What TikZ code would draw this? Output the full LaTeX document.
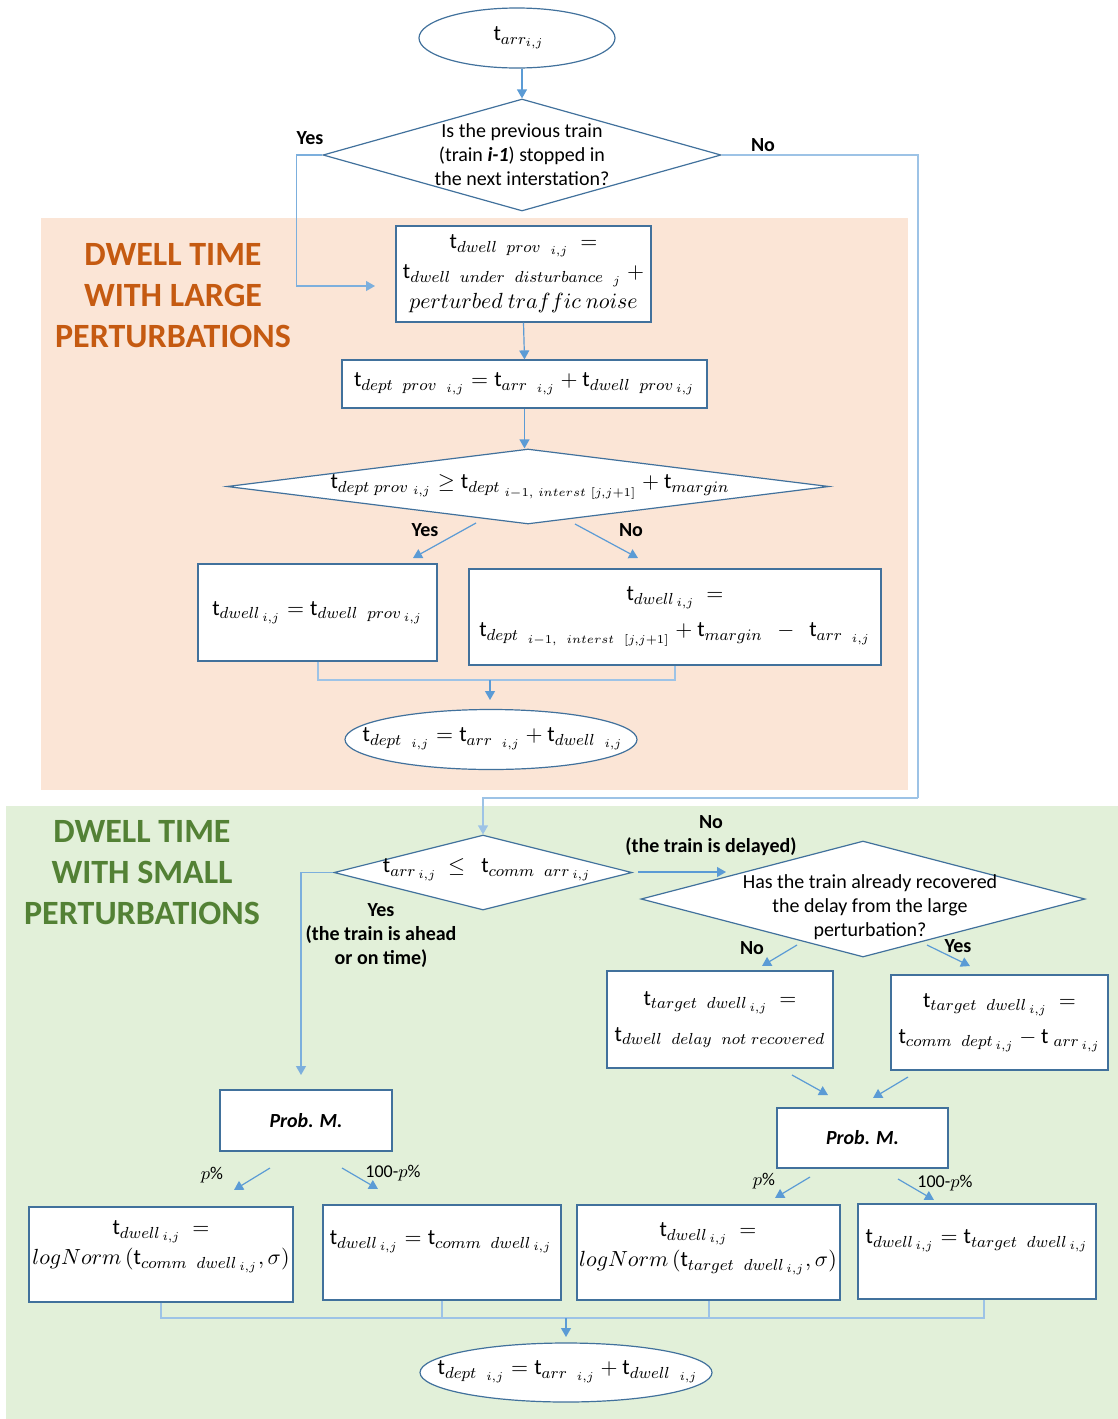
\documentclass[tikz,border=0pt]{standalone}
\usepackage{amsmath}
\usepackage[no-math]{fontspec}
\setmainfont{Carlito}
\usetikzlibrary{shapes.geometric,arrows.meta,calc}
\DeclareMathSizes{11}{11}{8}{6.5}

\definecolor{lineblue}{HTML}{5B9BD5}
\definecolor{routeblue}{HTML}{9DC3E6}
\definecolor{boxblue}{HTML}{41719C}
\definecolor{bgorange}{HTML}{FBE5D6}
\definecolor{bggreen}{HTML}{E2F0D9}
\definecolor{titleorange}{HTML}{C55A11}
\definecolor{titlegreen}{HTML}{538135}

% upright time symbol used in every formula
\newcommand{\tsym}{\text{t}}
\newcommand{\fmfont}{\fontsize{11}{15}\selectfont}

\begin{document}
\begin{tikzpicture}[x=0.5pt,y=-0.5pt,
  box/.style={draw=boxblue, line width=0.6pt, fill=white, rectangle, inner sep=2pt, align=center, font=\fmfont},
  term/.style={draw=boxblue, line width=0.6pt, fill=white, ellipse, inner sep=0pt},
  dia/.style={draw=boxblue, line width=0.6pt, fill=white, diamond, inner sep=0pt},
  fmla/.style={align=center, font=\fmfont, inner sep=0pt},
  qtext/.style={align=center, font=\fontsize{10}{12}\selectfont, inner sep=0pt},
  lbl/.style={align=center, font=\bfseries\fontsize{10}{12}\selectfont, inner sep=0pt},
  plbl/.style={align=center, font=\fontsize{9}{11}\selectfont, inner sep=0pt},
  title/.style={align=center, font=\bfseries\fontsize{17}{20.5}\selectfont, inner sep=0pt},
  arr/.style={-{Triangle[length=4.5pt,width=5pt]}, lineblue, line width=0.6pt},
  route/.style={routeblue, line width=1pt},
  probbox/.style={draw=boxblue, line width=0.6pt, fill=white, rectangle, font=\bfseries\itshape\fontsize{10}{12}\selectfont}
]
\useasboundingbox (0,0) rectangle (1118,1419);

% section backgrounds
\fill[bgorange] (41,218) rectangle (908,790);
\fill[bggreen] (6,806) rectangle (1118,1419);

\node[title, text=titleorange] (tlarge) at (173,296) {DWELL TIME\\WITH LARGE\\PERTURBATIONS};
\node[title, text=titlegreen] (tsmall) at (142,873) {DWELL TIME\\WITH SMALL\\PERTURBATIONS};

% ---------- large perturbations ----------
\node[term, minimum width=98pt, minimum height=30pt] (e1) at (517,38) {};
\node[fmla] (e1t) at (519,38) {$\tsym_{arr_{i,j}}$};

\node[dia, minimum width=199pt, minimum height=56pt] (d1) at (522,155) {};
\node[qtext] (d1t) at (522,155) {Is the previous train\\(train \textbf{\textit{i-1}}) stopped in\\the next interstation?};

\node[box, minimum width=127.5pt, minimum height=48pt] (b1) at (523.5,274)
  {$\tsym_{dwell\ \ prov\ \ _{i,j}}\ =$\\
   $\tsym_{dwell\ \ under\ \ disturbance\ \ _{j}}\ +$\\
   $perturbed\ traffic\ noise$};

\node[box, minimum width=182.5pt, minimum height=24pt] (b2) at (524.5,384)
  {$\tsym_{dept\ \ prov\ \ _{i,j}} = \tsym_{arr\ \ _{i,j}} + \tsym_{dwell\ \ prov\,_{i,j}}$};

\node[dia, minimum width=301pt, minimum height=37.5pt] (d2) at (528,486.5) {};
\node[fmla] (d2t) at (530,487)
  {$\tsym_{dept\ prov\ _{i,j}} \geq \tsym_{dept\ _{i-1,\ interst\ [j,j+1]}} + \tsym_{margin}$};

\node[box, minimum width=119.5pt, minimum height=48.5pt] (b3) at (317.5,612.5)
  {$\tsym_{dwell\,_{i,j}} = \tsym_{dwell\ \ prov\,_{i,j}}$};

\node[box, minimum width=206pt, minimum height=48pt] (b4) at (675,617)
  {$\tsym_{dwell\,_{i,j}}\ =$\\[3pt]
   $\tsym_{dept\ \ _{i-1,\ \ interst\ \ [j,j+1]}} + \tsym_{margin}\ \ -\ \ \tsym_{arr\ \ _{i,j}}$};

\node[term, minimum width=146pt, minimum height=30pt] (e2) at (491,739.5) {};
\node[fmla] (e2t) at (493,739)
  {$\tsym_{dept\ \ _{i,j}} = \tsym_{arr\ \ _{i,j}} + \tsym_{dwell\ \ _{i,j}}$};

% ---------- small perturbations ----------
\node[dia, minimum width=149pt, minimum height=37.5pt] (d3) at (483,872.5) {};
\node[fmla] (d3t) at (487,870)
  {$\tsym_{arr\,_{i,j}}\ \leq\ \ \tsym_{comm\ \ arr\,_{i,j}}$};

\node[dia, minimum width=222pt, minimum height=58pt] (d4) at (863,899) {};
\node[qtext] (d4t) at (870,907)
  {Has the train already recovered\\the delay from the large\\perturbation?};

\node[box, minimum width=113pt, minimum height=48.5pt] (b5) at (720,1019.5)
  {$\tsym_{target\ \ dwell\,_{i,j}}\ =$\\[3pt]
   $\tsym_{dwell\ \ delay\ \ not\ recovered}$};

\node[box, minimum width=108.5pt, minimum height=47.5pt] (b6) at (999.5,1022.5)
  {$\tsym_{target\ \ dwell\,_{i,j}}\ =$\\[3pt]
   $\tsym_{comm\ \ dept\,_{i,j}} - \tsym_{\ arr\,_{i,j}}$};

\node[probbox, minimum width=86pt, minimum height=30.5pt] (pm1) at (306,1120.5) {Prob. M.};
\node[probbox, minimum width=85.5pt, minimum height=30pt] (pm2) at (862.5,1138) {Prob. M.};

\node[box, minimum width=132pt, minimum height=47.5pt] (b7) at (161,1254.5) {};
\node[fmla] (b7t) at (161,1247)
  {$\tsym_{dwell\,_{i,j}}\ =$\\
   $logNorm\,(\tsym_{comm\ \ dwell\,_{i,j}},\sigma)$};

\node[box, minimum width=119pt, minimum height=47.5pt] (b8) at (442,1252.5) {};
\node[fmla] (b8t) at (441,1242)
  {$\tsym_{dwell\,_{i,j}} = \tsym_{comm\ \ dwell\,_{i,j}}$};

\node[box, minimum width=131.5pt, minimum height=47.5pt] (b9) at (708.5,1252.5) {};
\node[fmla] (b9t) at (708,1249)
  {$\tsym_{dwell\,_{i,j}}\ =$\\
   $logNorm\,(\tsym_{target\ \ dwell\,_{i,j}},\sigma)$};

\node[box, minimum width=119pt, minimum height=47.5pt] (b10) at (977,1251.5) {};
\node[fmla] (b10t) at (977,1241)
  {$\tsym_{dwell\,_{i,j}} = \tsym_{target\ \ dwell\,_{i,j}}$};

\node[term, minimum width=146pt, minimum height=29.5pt] (e3) at (566,1372.5) {};
\node[fmla] (e3t) at (568,1372)
  {$\tsym_{dept\ \ _{i,j}} = \tsym_{arr\ \ _{i,j}} + \tsym_{dwell\ \ _{i,j}}$};

% ---------- free connector ends ----------
\coordinate (yesEnd) at (375,286);
\coordinate (noCorner) at (918,798);
\coordinate (m1) at (490,680);
\coordinate (m1End) at (490,700);
\coordinate (smallYesEnd) at (301,1075);
\coordinate (delStart) at (638,872);
\coordinate (delEnd) at (726,872);
\coordinate (m2) at (566,1318);
\coordinate (m2End) at (566,1337);
\coordinate (a1s) at (476,523);  \coordinate (a1e) at (413,558);
\coordinate (a2s) at (575,524);  \coordinate (a2e) at (638,558);
\coordinate (a3s) at (797,945);  \coordinate (a3e) at (762,966);
\coordinate (a4s) at (927,945);  \coordinate (a4e) at (970,966);
\coordinate (a5s) at (792,1075); \coordinate (a5e) at (828,1095);
\coordinate (a6s) at (908,1077); \coordinate (a6e) at (873,1098);
\coordinate (a7s) at (270,1168); \coordinate (a7e) at (234,1190);
\coordinate (a8s) at (342,1168); \coordinate (a8e) at (378,1189);
\coordinate (a9s) at (810,1177); \coordinate (a9e) at (775,1198);
\coordinate (a10s) at (898,1179); \coordinate (a10e) at (934,1200);

% ---------- connectors ----------
\draw[arr] (d1.north |- e1.south) -- (d1.north);
\draw[arr, lineblue!80] (d1.west) -- ++(-26,0) |- (yesEnd);
\draw[route] (d1.east) -| (noCorner);
\draw[arr, routeblue] (noCorner) -| (d3.north);
\draw[arr] (b1.south) -- (b2.north);
\draw[arr] (b2.south) -- (b2.south |- d2.north);
\draw[arr] (a1s) -- (a1e);
\draw[arr] (a2s) -- (a2e);
\draw[route] (b3.south) |- (m1) -| (b4.south);
\draw[arr] (m1) -- (m1End);

\draw[arr, lineblue!80] (d3.west) -| (smallYesEnd);
\draw[arr] (delStart) -- (delEnd);
\draw[arr] (a3s) -- (a3e);
\draw[arr] (a4s) -- (a4e);
\draw[arr] (a5s) -- (a5e);
\draw[arr] (a6s) -- (a6e);
\draw[arr] (a7s) -- (a7e);
\draw[arr] (a8s) -- (a8e);
\draw[arr] (a9s) -- (a9e);
\draw[arr] (a10s) -- (a10e);
\draw[route] (b7.south) |- (m2);
\draw[route] (b8.south) |- (m2);
\draw[route] (b9.south) |- (m2);
\draw[route] ([xshift=3.5pt]b10.south) |- (m2);
\draw[arr] (m2) -- (m2End);

% ---------- branch labels ----------
\node[lbl] (l1) at (310,138) {Yes};
\node[lbl] (l2) at (763,145) {No};
\node[lbl] (l3) at (425,530) {Yes};
\node[lbl] (l4) at (631,530) {No};
\node[lbl] (l5) at (381,936) {Yes\\(the train is ahead\\or on time)};
\node[lbl] (l6) at (711,836) {No\\(the train is delayed)};
\node[lbl] (l7) at (752,948) {No};
\node[lbl] (l8) at (958,946) {Yes};
\node[plbl] (p1) at (212,1175) {$p$\%};
\node[plbl] (p2) at (393,1173) {100-$p$\%};
\node[plbl] (p3) at (764,1181) {$p$\%};
\node[plbl] (p4) at (945,1183) {100-$p$\%};
\end{tikzpicture}
\end{document}
